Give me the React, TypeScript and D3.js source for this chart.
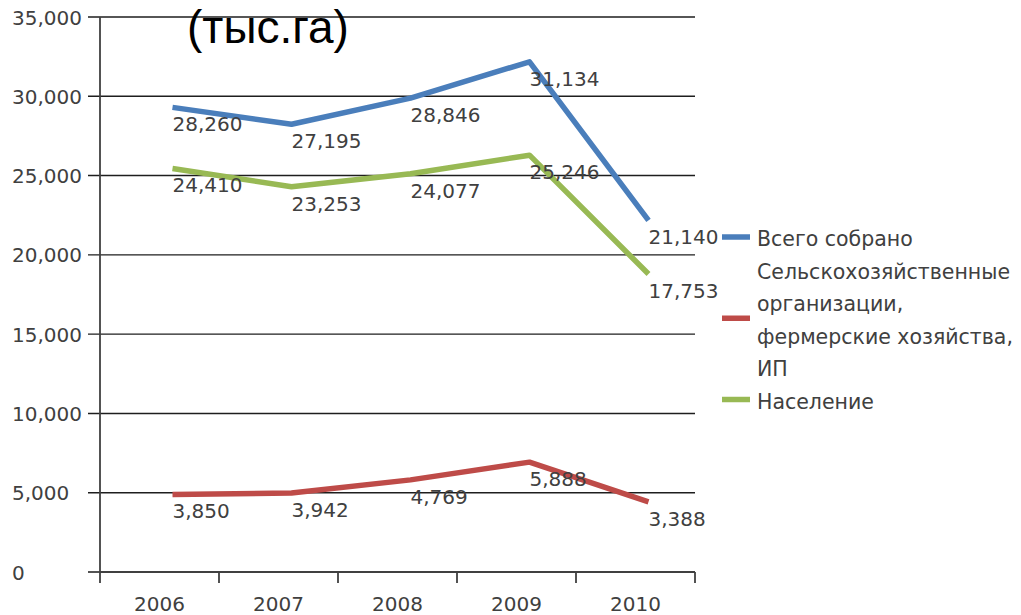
import React from "react";
import * as d3 from "d3";

const years = ["2006", "2007", "2008", "2009", "2010"];
const totalHarvested = [28260, 27195, 28846, 31134, 21140];
const farms = [3850, 3942, 4769, 5888, 3388];
const population = [24410, 23253, 24077, 25246, 17753];
const yTicks = [0, 5000, 10000, 15000, 20000, 25000, 30000, 35000];
const title = "(тыс.га)";

const series = [
  { name: ["Всего собрано"], values: totalHarvested, color: "#4a7ebb" },
  {
    name: ["Сельскохозяйственные", "организации,", "фермерские хозяйства,", "ИП"],
    values: farms,
    color: "#be4b48",
  },
  { name: ["Население"], values: population, color: "#98b954" },
];

const W = 1021;
const H = 615;
const FONT = "'DejaVu Sans', Verdana, sans-serif";

export default function App() {
  const left = 100;
  const right = 695;
  const top = 17;
  const bottom = 572;
  const x = d3.scaleBand<string>().domain(years).range([left, right]);
  const y = d3.scaleLinear().domain([0, 35000]).range([bottom, top]);
  const px = (yr: string) => (x(yr) as number) + x.bandwidth() / 2 + 13;
  const lineShift = -16.5;
  const fmt = d3.format(",");
  const lineGen = d3
    .line<number>()
    .x((_, i) => px(years[i]))
    .y((v) => y(v));

  const legendX = 722;
  const lineH = 32.5;
  const legendTop = 240;
  let row = 0;
  const legendItems = series.map((s) => {
    const startRow = row;
    row += s.name.length;
    return { ...s, startRow };
  });

  return (
    <svg
      width={W}
      height={H}
      style={{ position: "absolute", left: 0, top: 0, background: "#fff" }}
      fontFamily={FONT}
    >
      {/* gridlines */}
      {yTicks
        .filter((t) => t > 0)
        .map((t) => (
          <line
            key={t}
            x1={left - 12}
            x2={right}
            y1={y(t)}
            y2={y(t)}
            stroke="#1e1e1e"
            strokeWidth={1.4}
          />
        ))}
      {/* y axis */}
      <line x1={left} x2={left} y1={top} y2={bottom + 11} stroke="#404040" strokeWidth={1.8} />
      <line x1={left - 12} x2={left} y1={bottom} y2={bottom} stroke="#404040" strokeWidth={1.8} />
      {/* x axis */}
      <line x1={left} x2={right} y1={bottom} y2={bottom} stroke="#404040" strokeWidth={1.8} />
      {years.map((yr) => (
        <line
          key={"t" + yr}
          x1={(x(yr) as number) + x.bandwidth()}
          x2={(x(yr) as number) + x.bandwidth()}
          y1={bottom}
          y2={bottom + 11}
          stroke="#404040"
          strokeWidth={1.8}
        />
      ))}
      {/* y tick labels */}
      {yTicks.map((t) => (
        <text
          key={"yl" + t}
          x={12}
          y={y(t) + 2}
          dominantBaseline="middle"
          fontSize={20}
          fill="#404040"
        >
          {fmt(t)}
        </text>
      ))}
      {/* x tick labels */}
      {years.map((yr) => (
        <text
          key={"xl" + yr}
          x={(x(yr) as number) + x.bandwidth() / 2}
          y={611}
          textAnchor="middle"
          fontSize={20}
          fill="#404040"
        >
          {yr}
        </text>
      ))}
      {/* lines */}
      <g transform={`translate(0,${lineShift})`}>
        {series.map((s) => (
          <path
            key={s.color}
            d={lineGen(s.values) as string}
            fill="none"
            stroke={s.color}
            strokeWidth={5.5}
            strokeLinejoin="round"
          />
        ))}
      </g>
      {/* data labels */}
      {series.map((s) =>
        s.values.map((v, i) => (
          <text
            key={s.color + i}
            x={px(years[i])}
            y={y(v) + 2}
            dominantBaseline="middle"
            fontSize={20}
            fill="#404040"
          >
            {fmt(v)}
          </text>
        ))
      )}
      {/* title */}
      <text x={187} y={43} fontSize={46} fontFamily="'Liberation Sans', Arial, sans-serif" fill="#000">
        {title}
      </text>
      {/* legend */}
      {legendItems.map((s) => {
        const n = s.name.length;
        const cy = legendTop + (s.startRow + (n - 1) / 2) * lineH - 3;
        return (
          <g key={"lg" + s.color}>
            <line x1={legendX} x2={legendX + 28} y1={cy} y2={cy} stroke={s.color} strokeWidth={5.5} />
            {s.name.map((ln, k) => (
              <text
                key={k}
                x={legendX + 35}
                y={legendTop + (s.startRow + k) * lineH}
                dominantBaseline="middle"
                fontSize={20.5}
                fill="#404040"
              >
                {ln}
              </text>
            ))}
          </g>
        );
      })}
    </svg>
  );
}
